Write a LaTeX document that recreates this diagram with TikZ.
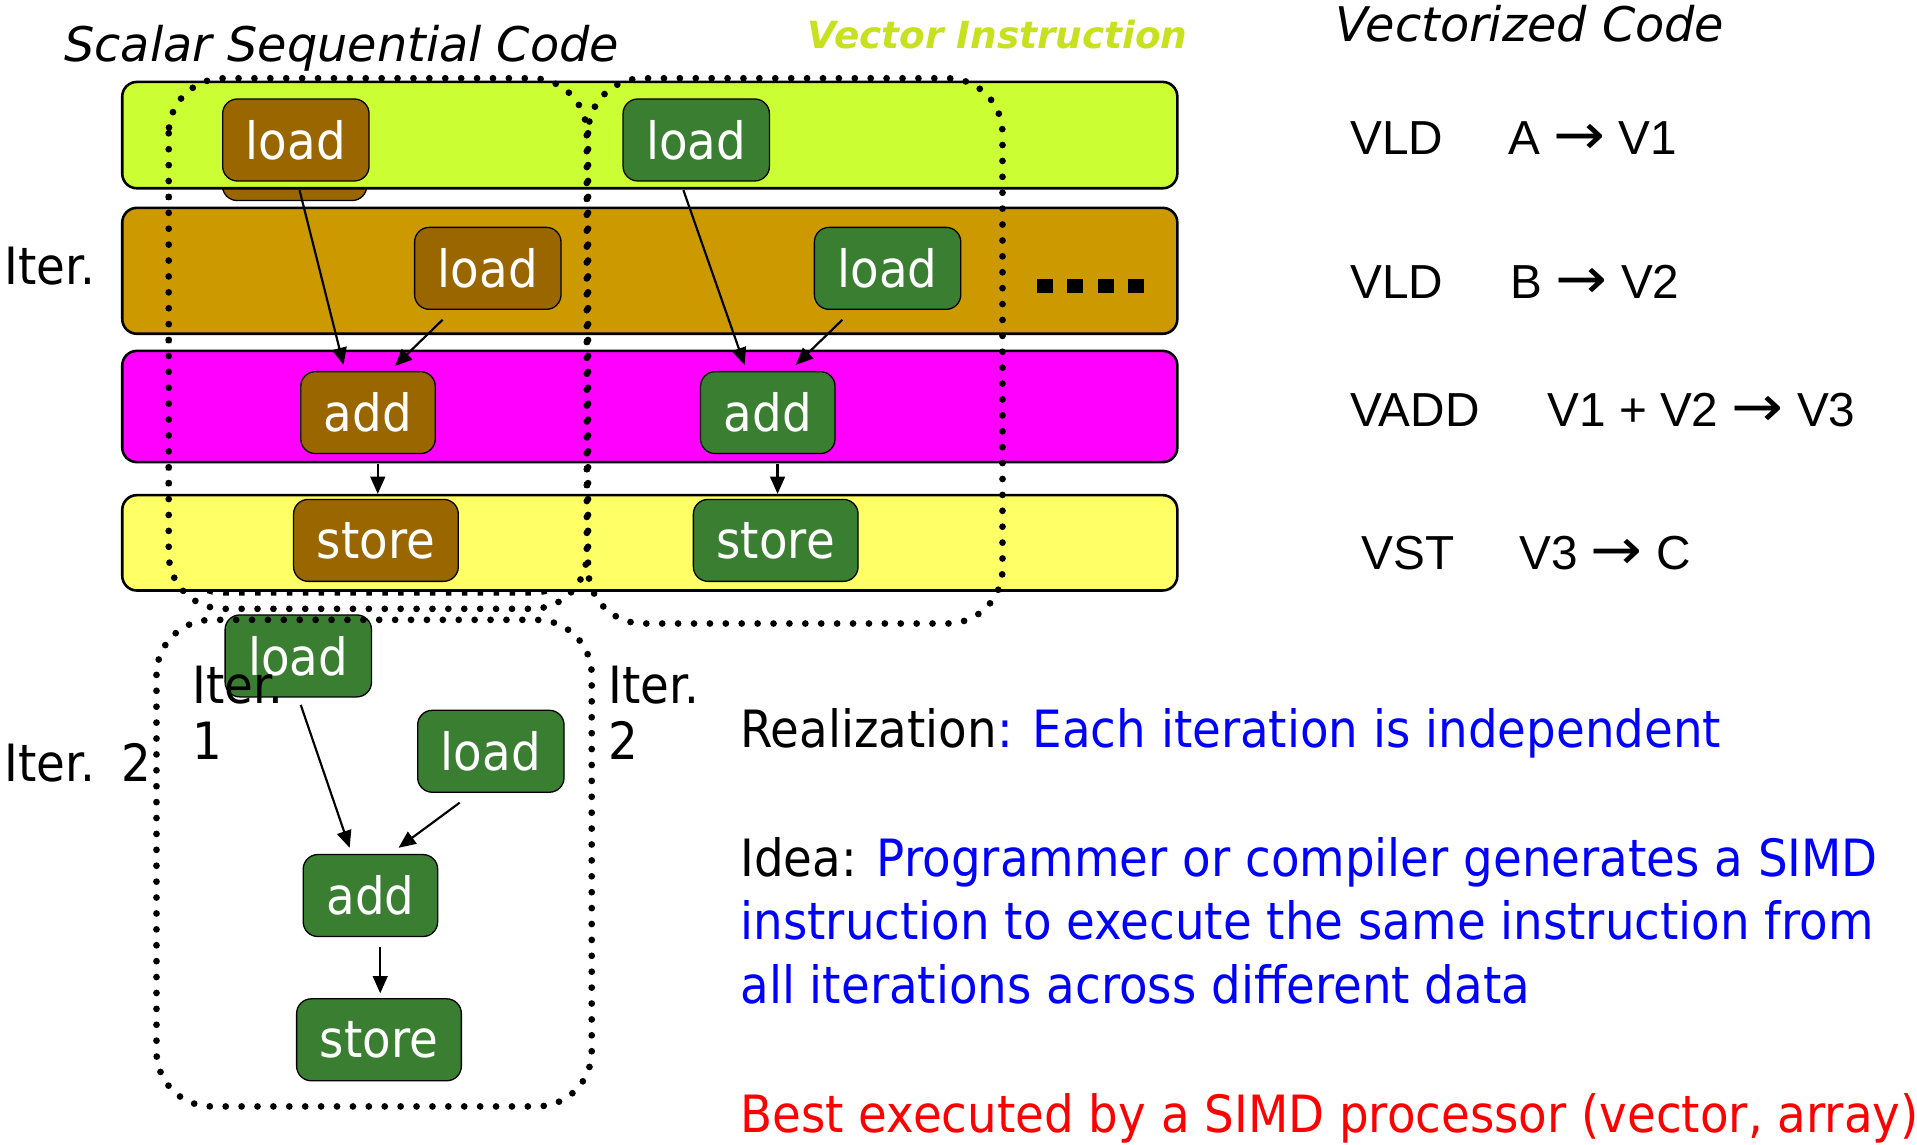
\documentclass[tikz,border=0pt]{standalone}
\usepackage{fontspec}
\setmainfont{DejaVu Sans}[FakeStretch=0.91]
\newfontfamily\titlefont{DejaVu Sans}
\newfontfamily\codefont{Liberation Sans}
\newfontfamily\arrowfont{DejaVu Sans}
\usetikzlibrary{arrows.meta}

\definecolor{barlime}{HTML}{CCFF33}
\definecolor{bargold}{HTML}{CC9900}
\definecolor{barpink}{HTML}{FF00FF}
\definecolor{baryellow}{HTML}{FFFF66}
\definecolor{opbrown}{HTML}{996600}
\definecolor{opgreen}{HTML}{3A7F31}
\definecolor{veclime}{HTML}{C8E11E}
\definecolor{noteblue}{HTML}{0000FF}
\definecolor{notered}{HTML}{FF0000}

\newcommand{\bodysize}{\fontsize{11.95}{14.8}\selectfont}
\newcommand{\codesize}{\fontsize{11.1}{13.3}\selectfont}
\newcommand{\titlesize}{\fontsize{11.1}{13.3}\selectfont}
\newcommand{\codearrow}{\scalebox{1.3}[1.2]{\arrowfont →}}

\tikzset{
  bar/.style={draw, line width=0.6pt, rounded corners=0.12cm},
  op/.style={draw, line width=0.3pt, rounded corners=0.12cm, text=white,
    minimum height=0.67cm, inner xsep=0.19cm, inner ysep=0pt, font=\bodysize},
  brownop/.style={op, fill=opbrown},
  greenop/.style={op, fill=opgreen},
  flow/.style={-{Triangle[length=0.14cm,width=0.12cm]}, line width=0.5pt},
  group/.style={line width=0.055cm, line cap=round, dash pattern=on 0pt off 0.13cm,
    rounded corners=0.45cm},
  hiddengroup/.style={line width=0.045cm, dash pattern=on 0.045cm off 0.085cm,
    rounded corners=0.45cm},
  txt/.style={inner sep=0pt, font=\bodysize},
  code/.style={inner sep=0pt, font=\codefont\codesize, anchor=base west},
  title/.style={inner sep=0pt, anchor=base west, font=\titlefont\titlesize\itshape}
}

\begin{document}
\begin{tikzpicture}[x=0.01cm, y=-0.01cm]
  \useasboundingbox (0,0) rectangle (1568,936);

  % titles
  \node[title] (scalartitle) at (52,50) {Scalar Sequential Code};
  \node[title, font=\titlefont\fontsize{8.7}{10}\selectfont\bfseries\itshape,
    text=veclime] (vectitle) at (660,39.5) {Vector Instruction};
  \node[title] (codetitle) at (1092,34) {Vectorized Code};

  % square dots of the first column, hidden by the bars
  \draw[hiddengroup] (138,75) rectangle (480,485);
  \node[brownop, minimum width=1.18cm, minimum height=0.64cm] (ldAback) at (241,132) {};

  % one bar per instruction
  \draw[bar, fill=barlime] (100,67) rectangle (963,154);
  \draw[bar, fill=bargold] (100,170) rectangle (963,273);
  \draw[bar, fill=barpink] (100,287) rectangle (963,378);
  \draw[bar, fill=baryellow] (100,405) rectangle (963,483);
  \foreach \i in {0,...,3}
    \fill (848+25*\i,228) rectangle ++(13,12);

  % iteration 1
  \node[brownop] (ldA) at (242,114.5) {load};
  \node[brownop] (ldB) at (399,219.5) {load};
  \node[brownop] (addA) at (301,337.5) {add};
  \node[brownop] (stA) at (307.5,442) {store};
  % iteration 2
  \node[greenop] (ldC) at (569.5,114.5) {load};
  \node[greenop] (ldD) at (726,219.5) {load};
  \node[greenop] (addB) at (628,337.5) {add};
  \node[greenop] (stB) at (634.5,442) {store};
  % iteration 2, below
  \node[greenop] (ldE) at (244,536.5) {load};
  \node[greenop] (ldF) at (401.5,614.5) {load};
  \node[greenop] (addC) at (303,732.5) {add};
  \node[greenop] (stC) at (310,850.5) {store};

  \draw[flow] ([shift={(3,7)}]ldA.south) -- ([shift={(-20,-5)}]addA.north);
  \draw[flow] ([shift={(-37,8)}]ldB.south) -- ([shift={(22,-4)}]addA.north);
  \draw[flow] ([shift={(8,8)}]addA.south) -- ([shift={(1.5,-4)}]stA.north);
  \draw[flow] ([shift={(-10.5,7)}]ldC.south) -- ([shift={(-19,-5)}]addB.north);
  \draw[flow] ([shift={(-37,8)}]ldD.south) -- ([shift={(23,-5)}]addB.north);
  \draw[flow] ([shift={(8,8)}]addB.south) -- ([shift={(1.5,-4)}]stB.north);
  \draw[flow] ([shift={(2,6)}]ldE.south) -- ([shift={(-17,-5)}]addC.north);
  \draw[flow] ([shift={(-25.5,8)}]ldF.south) -- ([shift={(23,-5)}]addC.north);
  \draw[flow] ([shift={(8,8)}]addC.south) -- ([shift={(1,-4)}]stC.north);

  % dotted groups
  \draw[group] (138,64) rectangle (480,498);
  \draw[group] (481,64) rectangle (820,510);
  \draw[group] (128,507) rectangle (484,905);

  % iteration labels
  \node[txt, anchor=base west] (iterA) at (3,233) {Iter.};
  \node[txt, anchor=base west] (iterB) at (3,639) {Iter.\hspace{0.05cm} 2};
  \node[txt, anchor=north west, align=left, font=\fontsize{11.95}{13.1}\selectfont]
    (iterC) at (157,544) {Iter.\\1};
  \node[txt, anchor=north west, align=left, font=\fontsize{11.95}{13.1}\selectfont]
    (iterD) at (497,544) {Iter.\\2};

  % vector code
  \node[code] (vld1) at (1104,126) {VLD};
  \node[code] (vld1arg) at (1233,126) {A \codearrow{} V1};
  \node[code] (vld2) at (1104,244) {VLD};
  \node[code] (vld2arg) at (1235,244) {B \codearrow{} V2};
  \node[code] (vadd) at (1104,349) {VADD};
  \node[code] (vaddarg) at (1265,349) {V1 + V2 \codearrow{} V3};
  \node[code] (vst) at (1113,466) {VST};
  \node[code] (vstarg) at (1242,466) {V3 \codearrow{} C};

  % notes
  \node[txt, anchor=base west] (realization) at (605,611)
    {Realization\textcolor{noteblue}{: Each iteration is independent}};
  \node[txt, anchor=north west, align=left, text=noteblue] (idea) at (605,684)
    {\textcolor{black}{Idea:} Programmer or compiler generates a SIMD\\
     instruction to execute the same instruction from\\
     all iterations across different data};
  \node[txt, anchor=base west, text=notered] (best) at (605,926)
    {Best executed by a SIMD processor (vector, array)};
\end{tikzpicture}
\end{document}
